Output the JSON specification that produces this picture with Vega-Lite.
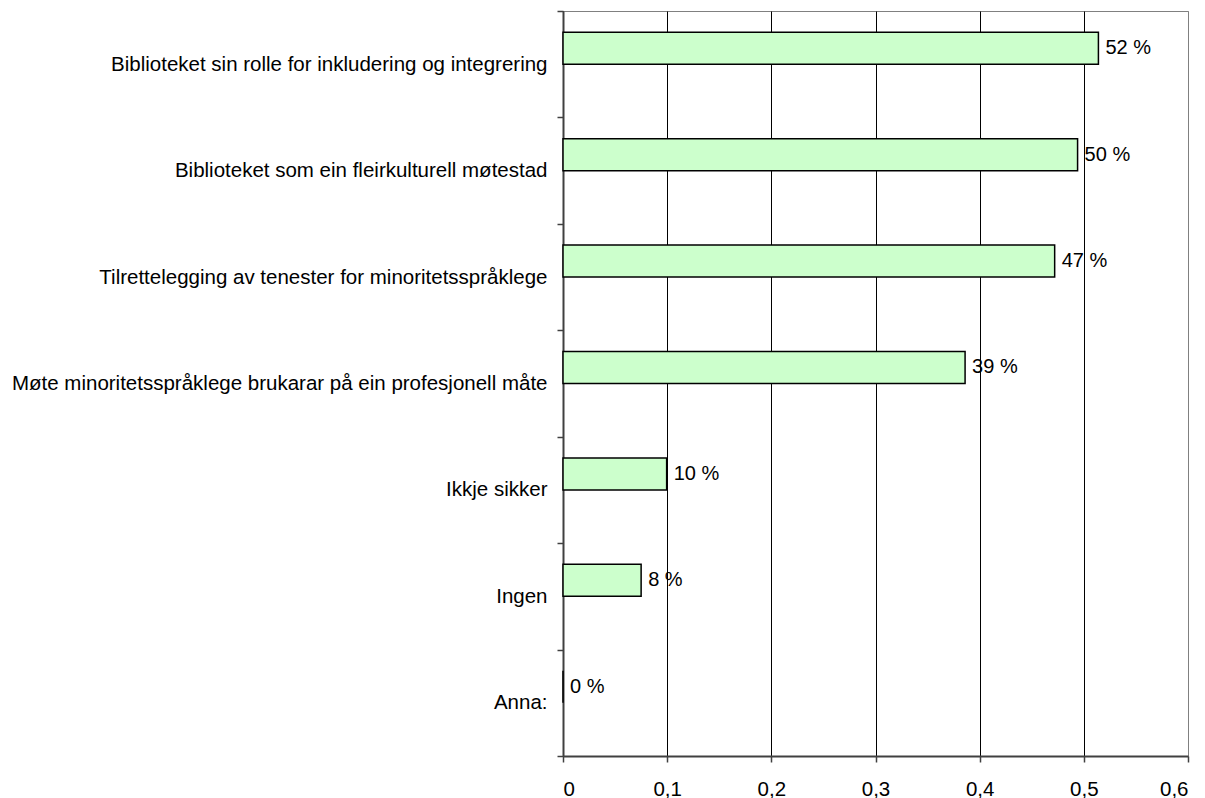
{
  "$schema": "https://vega.github.io/schema/vega-lite/v6.json",
  "width": 625,
  "height": 745,
  "autosize": {"type": "none"},
  "padding": {"left": 563, "top": 11, "right": 17, "bottom": 42},
  "background": "white",
  "config": {"font": "Liberation Sans", "view": {"stroke": "#808080", "strokeWidth": 1}},
  "data": {
    "values": [
      {"category": "Biblioteket sin rolle for inkludering og integrering", "series": "A", "value": 0.514, "label": "52 %"},
      {"category": "Biblioteket som ein fleirkulturell møtestad", "series": "A", "value": 0.494, "label": "50 %"},
      {"category": "Tilrettelegging av tenester for minoritetsspråklege", "series": "A", "value": 0.472, "label": "47 %"},
      {"category": "Møte minoritetsspråklege brukarar på ein profesjonell måte", "series": "A", "value": 0.386, "label": "39 %"},
      {"category": "Ikkje sikker", "series": "A", "value": 0.0995, "label": "10 %"},
      {"category": "Ingen", "series": "A", "value": 0.075, "label": "8 %"},
      {"category": "Anna:", "series": "A", "value": 0, "label": "0 %"}
    ]
  },
  "encoding": {
    "y": {
      "field": "category",
      "type": "nominal",
      "sort": ["Biblioteket sin rolle for inkludering og integrering", "Biblioteket som ein fleirkulturell møtestad", "Tilrettelegging av tenester for minoritetsspråklege", "Møte minoritetsspråklege brukarar på ein profesjonell måte", "Ikkje sikker", "Ingen", "Anna:"],
      "scale": {"paddingInner": 0, "paddingOuter": 0},
      "axis": {
        "title": null,
        "tickBand": "extent",
        "tickSize": 6,
        "tickColor": "#404040",
        "tickWidth": 1.5,
        "domainColor": "#404040",
        "domainWidth": 2,
        "labelFontSize": 20.5,
        "labelColor": "black",
        "labelPadding": 10,
        "labelLimit": 0,
        "grid": false
      }
    },
    "yOffset": {
      "field": "series",
      "type": "nominal",
      "scale": {"domain": ["A", "B"], "paddingInner": 0, "paddingOuter": 0.6625}
    },
    "x": {
      "field": "value",
      "type": "quantitative",
      "scale": {"domain": [0, 0.6], "nice": false},
      "axis": {
        "title": null,
        "values": [0, 0.1, 0.2, 0.3, 0.4, 0.5, 0.6],
        "labelExpr": "replace(format(datum.value, '.1~f'), '.', ',')",
        "labelFontSize": 20.5,
        "labelColor": "black",
        "labelPadding": 17,
        "tickSize": 6,
        "tickColor": "#404040",
        "tickWidth": 1.5,
        "domainColor": "#404040",
        "domainWidth": 2,
        "grid": true,
        "gridColor": {"condition": {"test": "datum.value >= 0.59", "value": "#808080"}, "value": "black"},
        "gridWidth": 1,
        "gridOpacity": 1
      }
    }
  },
  "layer": [
    {"mark": {"type": "bar", "fill": "#CCFFCC", "stroke": "black", "strokeWidth": 1.5}},
    {
      "mark": {"type": "text", "align": "left", "baseline": "middle", "dx": 7, "fontSize": 20, "color": "black"},
      "encoding": {"text": {"field": "label", "type": "nominal"}}
    }
  ]
}
